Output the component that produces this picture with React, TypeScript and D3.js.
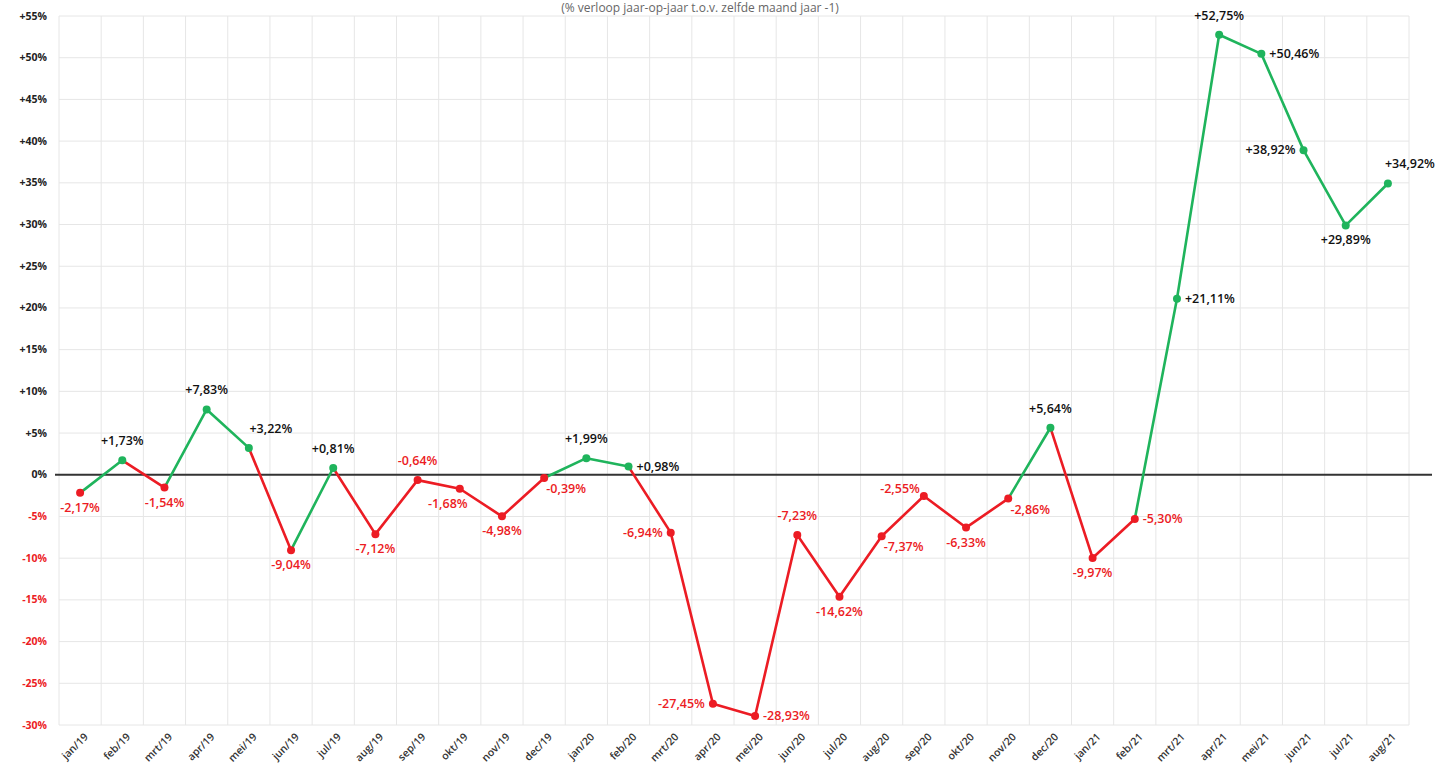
import React from 'react';
import * as d3 from 'd3';

const months = [
  'jan/19', 'feb/19', 'mrt/19', 'apr/19', 'mei/19', 'jun/19', 'jul/19', 'aug/19',
  'sep/19', 'okt/19', 'nov/19', 'dec/19', 'jan/20', 'feb/20', 'mrt/20', 'apr/20',
  'mei/20', 'jun/20', 'jul/20', 'aug/20', 'sep/20', 'okt/20', 'nov/20', 'dec/20',
  'jan/21', 'feb/21', 'mrt/21', 'apr/21', 'mei/21', 'jun/21', 'jul/21', 'aug/21',
];

const values = [
  -2.17, 1.73, -1.54, 7.83, 3.22, -9.04, 0.81, -7.12,
  -0.64, -1.68, -4.98, -0.39, 1.99, 0.98, -6.94, -27.45,
  -28.93, -7.23, -14.62, -7.37, -2.55, -6.33, -2.86, 5.64,
  -9.97, -5.30, 21.11, 52.75, 50.46, 38.92, 29.89, 34.92,
];

// where each value label sits relative to its point
const labelPlace = [
  'b', 't', 'b', 't', 'tr', 'b', 't', 'b',
  't', 'bl', 'b', 'br', 't', 'r', 'l', 'l',
  'r', 't', 'b', 'br', 'tl', 'b', 'br', 't',
  'b', 'r', 'r', 't', 'r', 'l', 'b', 'tr',
];

const yTicks = d3.range(-30, 56, 5);

const title = '(% verloop jaar-op-jaar t.o.v. zelfde maand jaar -1)';

const GREEN = '#1fb45c';
const RED = '#ec1c24';
const FONT = '"Open Sans", sans-serif';

const loc = d3.formatLocale({ decimal: ',', thousands: '.', grouping: [3], currency: ['€', ''], minus: '-' });
const fmtVal = loc.format('+.2f');
const fmtTick = loc.format('+d');

const App = () => {
  const width = 1445;
  const height = 776;
  const left = 59, right = 1409, top = 16, bottom = 725;

  const x = d3.scaleBand().domain(months).range([left, right]);
  const y = d3.scaleLinear().domain([-30, 55]).range([bottom, top]);
  const cx = (m) => x(m) + x.bandwidth() / 2;

  const pts = months.map((m, i) => ({ m, v: values[i], px: cx(m), py: y(values[i]), place: labelPlace[i] }));

  const labelPos = (p) => {
    let dx = 0, dy = 0, anchor = 'middle';
    const pl = p.place;
    if (pl.includes('t')) dy = -15;
    if (pl.includes('b')) dy = 19;
    if (pl === 'r') { dx = 8; dy = 4; anchor = 'start'; }
    if (pl === 'l') { dx = -8; dy = 4; anchor = 'end'; }
    if (pl === 'tr') dx = 22;
    if (pl === 'br') { dx = 22; dy = 15; }
    if (pl === 'bl') dx = -12;
    if (pl === 'tl') { dx = -4; dy = -3; anchor = 'end'; }
    return { x: p.px + dx, y: p.py + dy, anchor };
  };

  const line = d3.line().x(d => d[0]).y(d => d[1]);

  return (
    <svg width={width} height={height} style={{ position: 'absolute', left: 0, top: 0, background: '#fff' }}>
      <text x={700} y={12} textAnchor="middle" fontFamily={FONT} fontSize={12} fill="#666">{title}</text>

      {/* grid */}
      <g stroke="#e6e6e6" strokeWidth={1}>
        {yTicks.map(t => (
          <line key={'h' + t} x1={left} x2={right} y1={y(t)} y2={y(t)} />
        ))}
        {months.map(m => (
          <line key={'v' + m} x1={x(m)} x2={x(m)} y1={top} y2={bottom} />
        ))}
        <line x1={right} x2={right} y1={top} y2={bottom} />
      </g>

      {/* y tick labels */}
      <g fontFamily={FONT} fontSize={10.5} fontWeight={700}>
        {yTicks.map(t => (
          <text key={'yt' + t} x={47} y={y(t) + 3.5} textAnchor="end" fill={t < 0 ? RED : '#222'}>
            {t === 0 ? '0%' : fmtTick(t) + '%'}
          </text>
        ))}
      </g>

      {/* x tick labels */}
      <g fontFamily={FONT} fontSize={10.5} fontWeight={600} fill="#333">
        {months.map(m => (
          <text key={'xt' + m} transform={`translate(${cx(m) + 6},${bottom + 10}) rotate(-45)`} textAnchor="end" dy="0.35em">
            {m}
          </text>
        ))}
      </g>

      {/* zero line */}
      <line x1={55} x2={1432} y1={y(0)} y2={y(0)} stroke="#333" strokeWidth={2} />

      {/* segments, coloured by the sign of the end point */}
      <g fill="none" strokeWidth={2.6} strokeLinejoin="round" strokeLinecap="round">
        {pts.slice(1).map((p, i) => (
          <path key={'s' + i} d={line([[pts[i].px, pts[i].py], [p.px, p.py]])} stroke={p.v >= 0 ? GREEN : RED} />
        ))}
      </g>

      {/* markers */}
      {pts.map(p => (
        <circle key={'c' + p.m} cx={p.px} cy={p.py} r={4} fill={p.v >= 0 ? GREEN : RED} />
      ))}

      {/* value labels */}
      <g fontFamily={FONT} fontSize={12.5} fontWeight={600}>
        {pts.map(p => {
          const l = labelPos(p);
          return (
            <text key={'l' + p.m} x={l.x} y={l.y} textAnchor={l.anchor} fill={p.v >= 0 ? '#111' : RED}>
              {fmtVal(p.v) + '%'}
            </text>
          );
        })}
      </g>
    </svg>
  );
};

export default App;
